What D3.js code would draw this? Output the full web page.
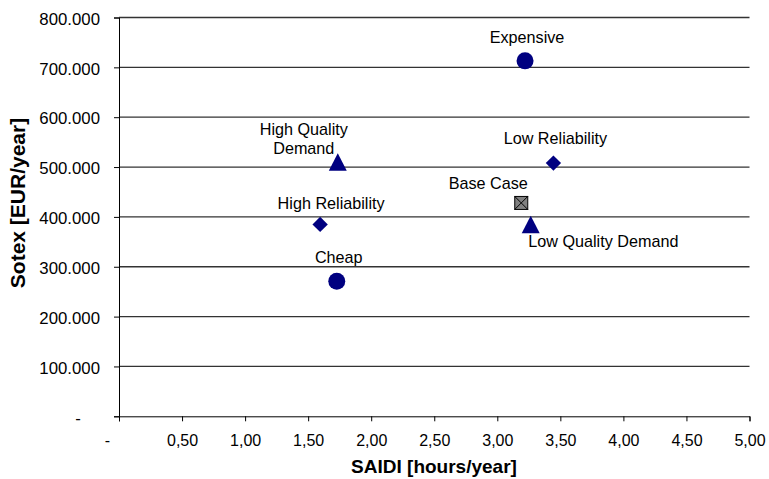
<!DOCTYPE html>
<html>
<head>
<meta charset="utf-8">
<script src="https://cdn.jsdelivr.net/npm/d3@7/dist/d3.min.js"></script>
<style>
  html, body { margin: 0; padding: 0; background: #fff; }
  svg { display: block; font-family: "Liberation Sans", Arial, sans-serif; }
</style>
</head>
<body>
<svg id="chart" width="769" height="479"></svg>
<script>
// Scenario results: outage duration vs. total cost
const scenarios = ["Expensive", "Low Reliability", "Base Case", "Low Quality Demand",
                   "High Quality Demand", "High Reliability", "Cheap"];
const saidi = [3.22, 3.445, 3.19, 3.265, 1.735, 1.595, 1.727];          // hours/year
const sotex = [713000, 508000, 428000, 385000, 510000, 385000, 271000]; // EUR/year
const markerShape = ["circle", "diamond", "square", "triangle", "triangle", "diamond", "circle"];

const xTicks = [0, 0.5, 1, 1.5, 2, 2.5, 3, 3.5, 4, 4.5, 5];
const yTicks = [0, 100000, 200000, 300000, 400000, 500000, 600000, 700000, 800000];

// Label placement around each marker (dx, dy from marker centre; lines of text)
const labelLayout = {
  "Expensive":           { dx: 2,   dy: -18, anchor: "middle", lines: ["Expensive"] },
  "Low Reliability":     { dx: 2,   dy: -19, anchor: "middle", lines: ["Low Reliability"] },
  "Base Case":           { dx: -33, dy: -14, anchor: "middle", lines: ["Base Case"] },
  "Low Quality Demand":  { dx: -2.5, dy: 23, anchor: "start",  lines: ["Low Quality Demand"] },
  "High Quality Demand": { dx: -34, dy: -27, anchor: "middle", lines: ["High Quality", "Demand"] },
  "High Reliability":    { dx: 11,  dy: -15, anchor: "middle", lines: ["High Reliability"] },
  "Cheap":               { dx: 2,   dy: -18, anchor: "middle", lines: ["Cheap"] }
};

const svg = d3.select("#chart");
const x = d3.scaleLinear().domain([0, 5]).range([119, 749.5]);
const y = d3.scaleLinear().domain([0, 800000]).range([416.3, 17.5]);

const fmtY = d => d === 0 ? "-" : d3.format(",")(d).replace(/,/g, ".");
const fmtX = d => d === 0 ? "-" : d.toFixed(2).replace(".", ",");

// Horizontal gridlines
svg.append("g")
  .selectAll("line")
  .data(yTicks.filter(d => d > 0))
  .join("line")
  .attr("x1", x(0)).attr("x2", x(5))
  .attr("y1", d => y(d)).attr("y2", d => y(d))
  .attr("stroke", "#333").attr("stroke-width", 1.3);

// Y axis
const yAxis = svg.append("g")
  .attr("transform", `translate(${x(0)},0)`)
  .call(d3.axisLeft(y).tickValues(yTicks).tickFormat(fmtY).tickSize(5).tickPadding(14));
yAxis.select(".domain").attr("stroke", "#000");
yAxis.selectAll(".tick line").attr("stroke", "#000");
yAxis.selectAll(".tick text")
  .attr("font-size", 16.8).attr("fill", "#000")
  .attr("font-family", "'Liberation Sans', Arial, sans-serif")
  .attr("dy", "0.4em")
  .attr("x", d => d === 0 ? -41 : -19)
  .attr("text-anchor", d => d === 0 ? "middle" : "end");

// X axis
const xAxis = svg.append("g")
  .attr("transform", `translate(0,${y(0)})`)
  .call(d3.axisBottom(x).tickValues(xTicks).tickFormat(fmtX).tickSize(5).tickPadding(13));
xAxis.select(".domain").attr("stroke", "#000");
xAxis.selectAll(".tick line").attr("stroke", "#000");
xAxis.selectAll(".tick text")
  .attr("font-size", 16).attr("fill", "#000")
  .attr("font-family", "'Liberation Sans', Arial, sans-serif")
  .attr("x", d => d === 0 ? -12 : 0);

// Axis titles
svg.append("text")
  .attr("x", 434).attr("y", 473)
  .attr("text-anchor", "middle")
  .attr("font-size", 19).attr("font-weight", "bold")
  .text("SAIDI [hours/year]");

svg.append("text")
  .attr("transform", `translate(25,203) rotate(-90)`)
  .attr("text-anchor", "middle")
  .attr("font-size", 21).attr("font-weight", "bold")
  .text("Sotex [EUR/year]");

// Markers
const navy = "#000080";
const pts = scenarios.map((name, i) => ({ name, sx: saidi[i], sy: sotex[i], shape: markerShape[i] }));

const marks = svg.append("g");
pts.forEach(p => {
  const cx = x(p.sx), cy = y(p.sy);
  if (p.shape === "circle") {
    marks.append("circle").attr("cx", cx).attr("cy", cy).attr("r", 8.5).attr("fill", navy);
  } else if (p.shape === "diamond") {
    marks.append("path").attr("transform", `translate(${cx},${cy})`)
      .attr("d", d3.symbol(d3.symbolDiamond2, 150)()).attr("fill", navy);
  } else if (p.shape === "triangle") {
    const h = 17.5, w = 18;
    marks.append("path")
      .attr("d", `M${cx},${cy - h / 2}L${cx + w / 2},${cy + h / 2}L${cx - w / 2},${cy + h / 2}Z`)
      .attr("fill", navy);
  } else if (p.shape === "square") {
    const s = 13;
    marks.append("rect").attr("x", cx - s / 2).attr("y", cy - s / 2)
      .attr("width", s).attr("height", s)
      .attr("fill", "#808080").attr("stroke", "#000").attr("stroke-width", 1);
    marks.append("path")
      .attr("d", `M${cx - s / 2},${cy - s / 2}L${cx + s / 2},${cy + s / 2}M${cx + s / 2},${cy - s / 2}L${cx - s / 2},${cy + s / 2}`)
      .attr("stroke", "#000").attr("stroke-width", 1);
  }
});

// Scenario labels
pts.forEach(p => {
  const lay = labelLayout[p.name];
  const t = svg.append("text")
    .attr("x", x(p.sx) + lay.dx).attr("y", y(p.sy) + lay.dy)
    .attr("text-anchor", lay.anchor)
    .attr("font-size", 16.2).attr("fill", "#000");
  lay.lines.forEach((ln, k) => {
    t.append("tspan").attr("x", x(p.sx) + lay.dx).attr("dy", k === 0 ? 0 : 19.3).text(ln);
  });
});
</script>
</body>
</html>
